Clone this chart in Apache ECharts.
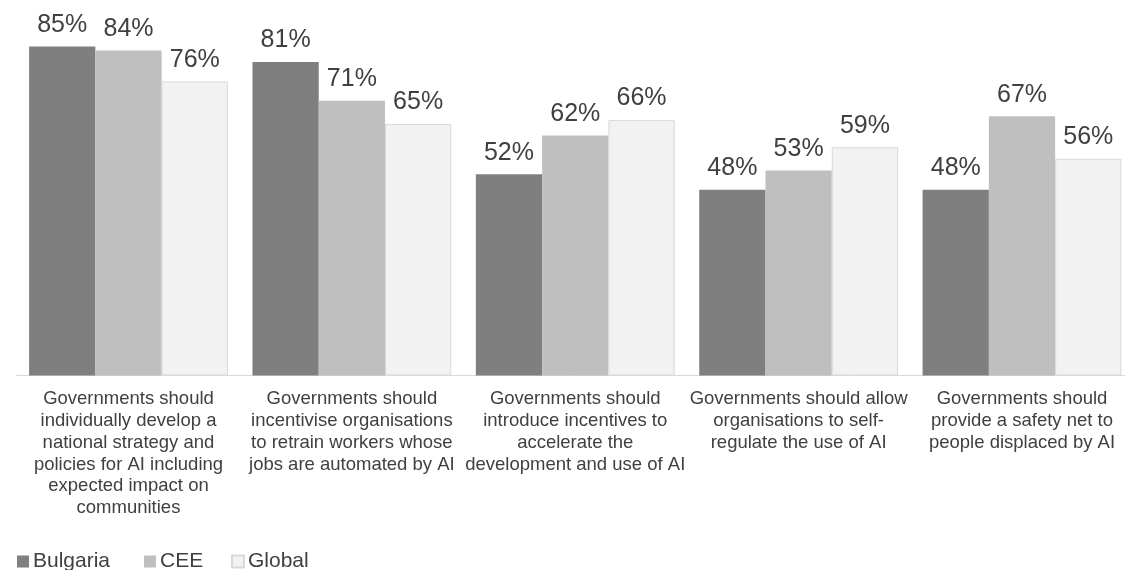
<!DOCTYPE html>
<html>
<head>
<meta charset="utf-8">
<script src="https://cdn.jsdelivr.net/npm/echarts@6/dist/echarts.min.js"></script>
<style>html,body{margin:0;padding:0;background:#fff}#c{width:1125px;height:570px}</style>
</head>
<body>
<div id="c"></div>
<script>
const categories = [
  "Governments should\nindividually develop a\nnational strategy and\npolicies for AI including\nexpected impact on\ncommunities",
  "Governments should\nincentivise organisations\nto retrain workers whose\njobs are automated by AI",
  "Governments should\nintroduce incentives to\naccelerate the\ndevelopment and use of AI",
  "Governments should allow\norganisations to self-\nregulate the use of AI",
  "Governments should\nprovide a safety net to\npeople displaced by AI"
];
const seriesNames = ["Bulgaria", "CEE", "Global"];
const bulgaria = [85, 81, 52, 48, 48];
const cee = [84, 71, 62, 53, 67];
const global = [76, 65, 66, 59, 56];

const FONT = "'Liberation Sans', Arial, sans-serif";
const TXT = '#404040';
const colors = ['#7f7f7f', '#bfbfbf', '#f2f2f2'];
const values = [bulgaria, cee, global];

const series = seriesNames.map((n, i) => ({
  name: n,
  type: 'bar',
  data: values[i],
  barGap: '0%',
  barCategoryGap: '11%',
  itemStyle: i === 2 ? {color: colors[i], borderColor: '#d9d9d9', borderWidth: 1} : {color: colors[i]},
  label: {
    show: true, position: 'top', distance: 9,
    formatter: '{c}%', color: TXT, fontSize: 25, fontFamily: FONT
  }
}));

const legendLefts = [17, 144, 231];
const legends = seriesNames.map((n, i) => ({
  data: [n], left: legendLefts[i], top: 551, padding: 0,
  itemWidth: 12, itemHeight: 12, itemGap: 0,
  icon: 'rect',
  textStyle: {color: TXT, fontSize: 21, fontFamily: FONT, padding: [0,0,0,-1]}
}));

const chart = echarts.init(document.getElementById('c'), null, {renderer: 'canvas'});
chart.setOption({
  animation: false,
  backgroundColor: '#fff',
  color: colors,
  legend: legends,
  grid: {left: 16.8, right: -8.7, top: 27.2, bottom: 194.5, containLabel: false, outerBoundsMode: 'none'},
  xAxis: {
    type: 'category', data: categories,
    axisLine: {lineStyle: {color: '#d9d9d9', width: 1}},
    axisTick: {show: false},
    axisLabel: {interval: 0, margin: 13, color: TXT, fontSize: 18.5, lineHeight: 21.7, fontFamily: FONT, align: 'center'}
  },
  yAxis: {type: 'value', min: 0, max: 90, show: false, splitLine: {show: false}},
  series: series
});
</script>
</body>
</html>
